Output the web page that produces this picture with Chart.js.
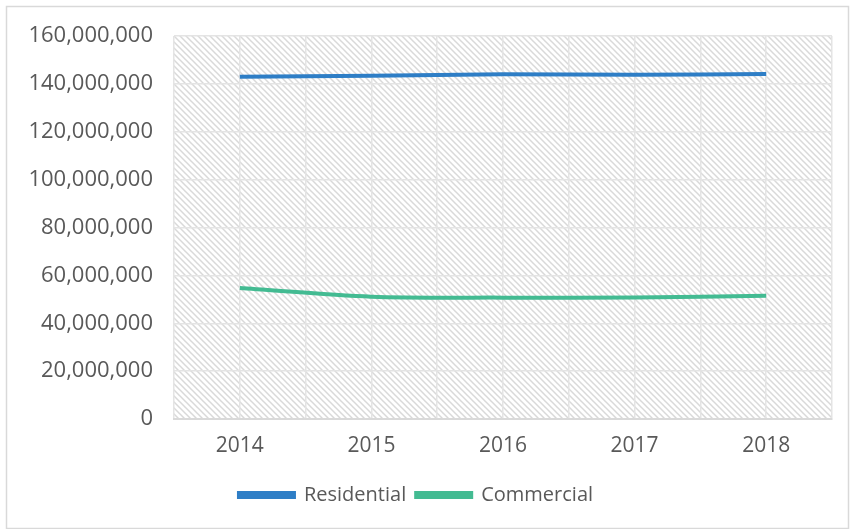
<!DOCTYPE html>
<html>
<head>
<meta charset="utf-8">
<script src="https://cdn.jsdelivr.net/npm/chart.js@4.4.1/dist/chart.umd.min.js"></script>
<style>
  body { margin: 0; background: #fff; }
</style>
</head>
<body>
<canvas id="chart" width="850" height="529"></canvas>
<script>
// data
var years = [2014, 2015, 2016, 2017, 2018];
var residential = [143000000, 143400000, 144000000, 143800000, 144100000];
var commercial = [54700000, 51100000, 50700000, 50800000, 51500000];
var yTicks = [0, 20000000, 40000000, 60000000, 80000000, 100000000, 120000000, 140000000, 160000000];

var textColor = '#595959';
var fontFamily = "'Open Sans', sans-serif";

function points(vals) {
  return years.map(function (y, i) { return { x: y, y: vals[i] }; });
}

// diagonal hatch for the plot area
function hatch() {
  var c = document.createElement('canvas');
  c.width = 6; c.height = 6;
  var g = c.getContext('2d');
  g.fillStyle = '#fff';
  g.fillRect(0, 0, 6, 6);
  g.strokeStyle = '#d9d9d9';
  g.lineWidth = 1.5;
  g.beginPath();
  g.moveTo(-1, -1); g.lineTo(7, 7);
  g.moveTo(-1, 5); g.lineTo(1, 7);
  g.moveTo(5, -1); g.lineTo(7, 1);
  g.stroke();
  return g.createPattern(c, 'repeat');
}

var background = {
  id: 'background',
  beforeDraw: function (chart) {
    var ctx = chart.ctx, a = chart.chartArea;
    ctx.save();
    ctx.strokeStyle = '#d9d9d9';
    ctx.lineWidth = 1.5;
    ctx.strokeRect(6.5, 6.5, 842, 522);
    ctx.fillStyle = hatch();
    ctx.fillRect(a.left, a.top, a.right - a.left, a.bottom - a.top);
    ctx.restore();
  }
};

new Chart(document.getElementById('chart'), {
  type: 'line',
  data: {
    datasets: [
      {
        label: 'Residential',
        data: points(residential),
        borderColor: '#2e7ec6',
        backgroundColor: '#2e7ec6',
        borderWidth: 4,
        pointRadius: 0,
        tension: 0.3
      },
      {
        label: 'Commercial',
        data: points(commercial),
        borderColor: '#43bb92',
        backgroundColor: '#43bb92',
        borderWidth: 4,
        pointRadius: 0,
        tension: 0.3
      }
    ]
  },
  options: {
    responsive: false,
    animation: false,
    layout: { padding: { top: 36, right: 18, left: 0, bottom: 14 } },
    plugins: {
      legend: {
        position: 'bottom',
        labels: {
          color: textColor,
          font: { family: fontFamily, size: 20 },
          boxWidth: 55,
          boxHeight: 4,
          padding: 10
        }
      },
      tooltip: { enabled: false }
    },
    scales: {
      x: {
        type: 'linear',
        min: 2013.5,
        max: 2018.5,
        afterFit: function (s) { s.height = 56; },
        ticks: {
          stepSize: 0.5,
          autoSkip: false,
          maxRotation: 0,
          color: textColor,
          font: { family: fontFamily, size: 21 },
          padding: 14,
          callback: function (v) { return Number.isInteger(v) ? String(v) : ''; }
        },
        grid: { color: '#e4e4e4', lineWidth: 1.5, drawTicks: false },
        border: { color: '#d9d9d9', width: 2 }
      },
      y: {
        min: 0,
        max: 160000000,
        afterFit: function (s) { s.width = 174; },
        afterBuildTicks: function (s) { s.ticks = yTicks.map(function (v) { return { value: v }; }); },
        ticks: {
          color: textColor,
          font: { family: fontFamily, size: 22 },
          padding: 21,
          callback: function (v) { return v.toLocaleString('en-US'); }
        },
        grid: { color: '#e4e4e4', lineWidth: 1.5, drawTicks: false },
        border: { display: false }
      }
    }
  },
  plugins: [background]
});
</script>
</body>
</html>
